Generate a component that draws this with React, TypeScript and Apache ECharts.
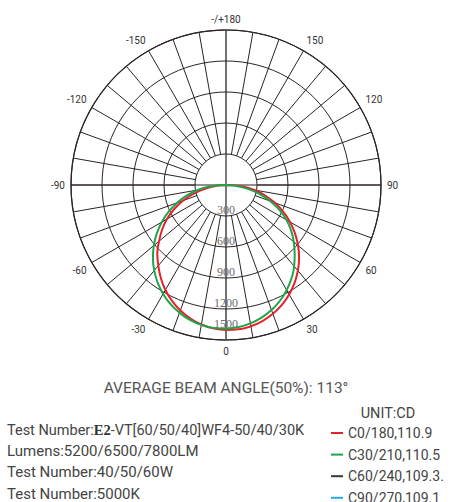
import React, { useEffect, useRef } from "react";
import * as echarts from "echarts";

const ANGLES = [
  -90, -85, -80, -75, -70, -65, -60, -55, -50, -45, -40, -35, -30, -25, -20, -15, -10, -5, 0,
  5, 10, 15, 20, 25, 30, 35, 40, 45, 50, 55, 60, 65, 70, 75, 80, 85, 90,
];
const C0_180 = [
  0, 90, 200, 320, 440, 555, 660, 755, 845, 940, 1018, 1099, 1173, 1237, 1292, 1337, 1371, 1393, 1403,
  1402, 1388, 1363, 1327, 1280, 1223, 1157, 1082, 1000, 910, 815, 715, 610, 503, 392, 278, 164, 0,
];
const C30_210 = [
  0, 160, 276, 391, 503, 612, 717, 817, 912, 1000, 1080, 1153, 1217, 1271, 1316, 1351, 1375, 1388, 1390,
  1380, 1360, 1329, 1287, 1236, 1174, 1104, 1026, 940, 855, 770, 675, 570, 455, 335, 215, 95, 0,
];
const C60_240: number[] = [];
const C90_270: number[] = [];
const SERIES_NAMES = ["C0/180,110.9", "C30/210,110.5", "C60/240,109.3.", "C90/270,109.1"];
const SERIES_COLORS = ["#e5212b", "#1ea449", "#3b3433", "#2aa7df"];
const RADIUS_MAX = 1500;
const RADIUS_STEP = 300;
const ANGLE_LABEL_STEP = 30;
const ANGLE_GRID_STEP = 10;
const TITLE = "AVERAGE BEAM ANGLE(50%): 113°";
const UNIT = "UNIT:CD";
const INFO_LINES = [
  "Test Number:{s|E2}-VT[60/50/40]WF4-50/40/30K",
  "Lumens:5200/6500/7800LM",
  "Test Number:40/50/60W",
  "Test Number:5000K",
];

const FONT = "Roboto";
const GRID = "#2b2324";
const AXIS_GRAY = "#7a7a7a";
const CX = 226;
const CY = 185;
const R = 155;
const HOLE = 31;

export default function App() {
  const ref = useRef<HTMLDivElement>(null);
  useEffect(() => {
    if (!ref.current) return;
    const chart = echarts.init(ref.current, null, { renderer: "svg" });
    // angle axis runs 0..360 counter-clockwise from the bottom; negative angles wrap
    const toPairs = (vals: number[]) => vals.map((v, i) => [v, ANGLES[i] < 0 ? ANGLES[i] + 360 : ANGLES[i]]);
    const angleLabel = (v: number) => {
      if (v === 180) return "-/+180";
      if (v === 360) return "";
      return v > 180 ? String(v - 360) : String(v);
    };
    const baseAngle = {
      type: "value",
      min: 0,
      max: 360,
      startAngle: 270,
      clockwise: false,
    };
    const hiddenRadius = (polarIndex: number) => ({
      polarIndex,
      type: "value",
      min: 0,
      max: RADIUS_MAX,
      axisLine: { show: false },
      axisTick: { show: false },
      axisLabel: { show: false },
      splitLine: { show: false },
    });
    const option: any = {
      animation: false,
      polar: [
        { center: [CX, CY], radius: [0, R] },
        { center: [CX, CY], radius: [HOLE, R] },
        { center: [CX, CY], radius: [0, R] },
        { center: [CX, CY], radius: [0, R] },
      ],
      angleAxis: [
        {
          ...baseAngle,
          polarIndex: 0,
          interval: ANGLE_LABEL_STEP,
          axisLine: { show: true, lineStyle: { color: GRID, width: 1.2 } },
          axisTick: { show: false },
          splitLine: { show: false },
          axisLabel: {
            show: true,
            margin: 6,
            fontFamily: FONT,
            fontSize: 10,
            color: "#333",
            formatter: angleLabel,
          },
          z: 2,
        },
        {
          ...baseAngle,
          polarIndex: 1,
          interval: ANGLE_GRID_STEP,
          axisLine: { show: false },
          axisTick: { show: false },
          axisLabel: { show: false },
          splitLine: { show: true, lineStyle: { color: GRID, width: 1 } },
          z: 1,
        },
        {
          ...baseAngle,
          polarIndex: 2,
          interval: 90,
          axisLine: { show: false },
          axisTick: { show: false },
          axisLabel: { show: false },
          splitLine: { show: true, lineStyle: { color: GRID, width: 1.1 } },
          z: 1,
        },
        {
          ...baseAngle,
          polarIndex: 3,
          interval: 180,
          axisLine: { show: false },
          axisTick: { show: false },
          axisLabel: { show: false },
          splitLine: { show: true, lineStyle: { color: AXIS_GRAY, width: 1.6 } },
          z: 3,
        },
      ],
      radiusAxis: [
        {
          polarIndex: 0,
          type: "value",
          min: 0,
          max: RADIUS_MAX,
          interval: RADIUS_STEP,
          axisLine: { show: false },
          axisTick: { show: false },
          splitLine: { show: true, lineStyle: { color: GRID, width: 1 } },
          axisLabel: {
            show: true,
            margin: 0,
            align: "center",
            verticalAlign: "bottom",
            fontFamily: "Liberation Serif",
            fontSize: 12,
            color: "#6a6a6a",
            formatter: (v: number) => (v === 0 ? "" : v === RADIUS_MAX ? "{b|" + v + "}" : String(v)),
            rich: {
              b: { fontFamily: "Liberation Serif", fontSize: 12, color: "#6a6a6a", padding: [0, 0, 10, 0] },
            },
          },
          z: 4,
        },
        hiddenRadius(1),
        hiddenRadius(2),
        hiddenRadius(3),
      ],
      legend: {
        orient: "vertical",
        left: 331,
        top: 425,
        height: 120,
        padding: 0,
        itemWidth: 12,
        itemHeight: 2,
        itemGap: 5.6,
        icon: "rect",
        textStyle: { fontFamily: FONT, fontSize: 14, color: "#444", lineHeight: 16 },
        data: SERIES_NAMES,
      },
      series: [C0_180, C30_210, C60_240, C90_270].map((vals, i) => ({
        name: SERIES_NAMES[i],
        type: "line",
        coordinateSystem: "polar",
        polarIndex: 0,
        smooth: 0.5,
        symbol: "none",
        lineStyle: { color: SERIES_COLORS[i], width: 2 },
        itemStyle: { color: SERIES_COLORS[i] },
        data: toPairs(vals),
        z: 5,
      })),
      graphic: [
        {
          type: "text",
          x: 226,
          y: 388,
          style: {
            text: TITLE,
            fontFamily: FONT,
            fontSize: 15.5,
            fill: "#555",
            textAlign: "center",
            textVerticalAlign: "middle",
          },
        },
        {
          type: "text",
          x: 388,
          y: 413,
          style: {
            text: UNIT,
            fontFamily: FONT,
            fontSize: 14.5,
            fill: "#444",
            textAlign: "center",
            textVerticalAlign: "middle",
          },
        },
        ...INFO_LINES.map((t, i) => ({
          type: "text",
          x: 7,
          y: [430, 451, 472, 494][i],
          style: {
            text: t,
            fontFamily: FONT,
            fontSize: i === 0 ? 14.5 : 15,
            fill: "#444",
            textAlign: "left",
            textVerticalAlign: "middle",
            rich: {
              s: { fontFamily: "Liberation Serif", fontSize: 14.5, fill: "#333", fontWeight: "bold" },
            },
          },
        })),
      ],
    };
    chart.setOption(option);
    return () => chart.dispose();
  }, []);
  return (
    <div
      ref={ref}
      style={{ position: "fixed", left: 0, top: 0, width: 452, height: 502, background: "#fff" }}
    />
  );
}
